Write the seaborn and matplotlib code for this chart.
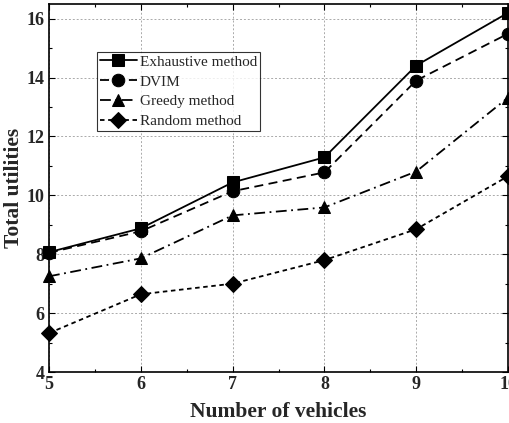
import matplotlib
matplotlib.use("Agg")
import matplotlib.pyplot as plt
import seaborn as sns
import pandas as pd
from matplotlib.ticker import MultipleLocator

# Total utilities achieved by each allocation method
vehicles = [5, 6, 7, 8, 9, 10]
exhaustive = [8.07, 8.88, 10.44, 11.29, 14.41, 16.2]
dvim = [8.05, 8.78, 10.14, 10.78, 13.9, 15.49]
greedy = [7.25, 7.86, 9.32, 9.59, 10.81, 13.32]
random_method = [5.32, 6.64, 7.0, 7.8, 8.85, 10.65]

series_names = ["Exhaustive method", "DVIM", "Greedy method", "Random method"]
series_values = [exhaustive, dvim, greedy, random_method]

sns.set_theme(style="white")
plt.rcParams["font.family"] = ["Liberation Serif", "DejaVu Serif"]

df = pd.DataFrame({
    "vehicles": vehicles * len(series_names),
    "utility": sum(series_values, []),
    "method": [n for n in series_names for _ in vehicles],
})

fig = plt.figure(figsize=(5.10, 4.23), dpi=100)
ax = fig.add_axes([49 / 510, 1 - 372 / 423, (508 - 49) / 510, (372 - 4) / 423])

styles = {
    "Exhaustive method": dict(marker="s", linestyle="-"),
    "DVIM": dict(marker="o", linestyle=(0, (5, 3))),
    "Greedy method": dict(marker="^", linestyle=(0, (6, 2.5, 1, 2.5))),
    "Random method": dict(marker="D", linestyle=(0, (2.5, 2))),
}
marker_sizes = {"Exhaustive method": 8.5, "DVIM": 9, "Greedy method": 9, "Random method": 8}

for name in series_names:
    sub = df[df["method"] == name]
    sns.lineplot(data=sub, x="vehicles", y="utility", ax=ax, color="black",
                 linewidth=1.3, marker=styles[name]["marker"],
                 linestyle=styles[name]["linestyle"],
                 markersize=marker_sizes[name], markeredgecolor="black",
                 markerfacecolor="black", label=name, clip_on=False)

ax.set_xlim(5, 10)
ax.set_ylim(4, 16.5)
ax.xaxis.set_major_locator(MultipleLocator(1))
ax.xaxis.set_minor_locator(MultipleLocator(0.5))
ax.yaxis.set_major_locator(MultipleLocator(2))
ax.yaxis.set_minor_locator(MultipleLocator(1))
ax.tick_params(which="both", direction="in", top=True, right=True,
               bottom=True, left=True, color="black")
ax.tick_params(which="major", length=4, width=0.8, labelsize=13, pad=3)
ax.tick_params(which="minor", length=2.5, width=0.8)
for lbl in ax.get_xticklabels() + ax.get_yticklabels():
    lbl.set_fontweight("bold")

ax.grid(True, which="major", color="#aaaaaa", linestyle=(0, (2, 2)), linewidth=0.7)
for s in ax.spines.values():
    s.set_color("black")
    s.set_linewidth(1.2)

ax.set_xlabel("Number of vehicles", fontsize=15.5, fontweight="bold", labelpad=6)
ax.set_ylabel("Total utilities", fontsize=15.5, fontweight="bold", labelpad=2)

leg = ax.legend(loc="upper left", bbox_to_anchor=((97 - 49) / 459, 1 - (52 - 4) / 368),
                fontsize=11, frameon=True, fancybox=False, edgecolor="black",
                borderpad=0.2, labelspacing=0.4, handlelength=2.4,
                handletextpad=0.2, borderaxespad=0)
leg.get_frame().set_linewidth(0.8)

fig.savefig("out.png", dpi=100)
